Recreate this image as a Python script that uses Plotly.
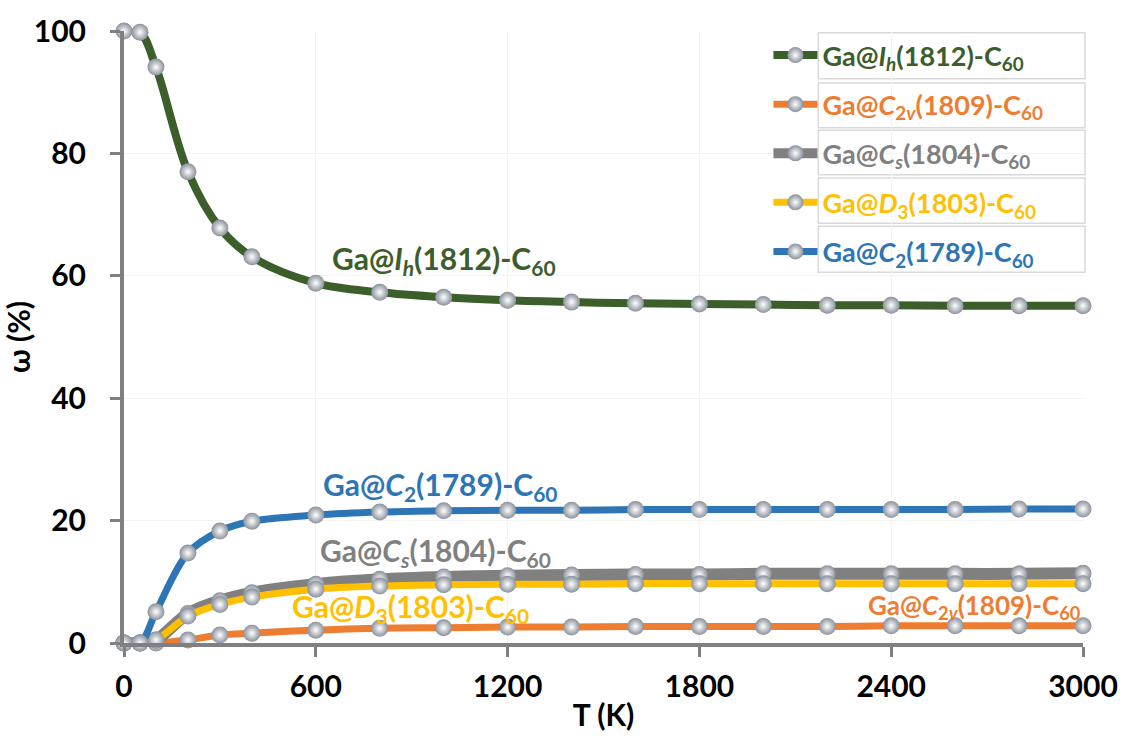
import plotly.graph_objects as go

T = [0, 50, 100, 200, 300, 400, 600, 800, 1000, 1200, 1400, 1600, 1800, 2000, 2200, 2400, 2600, 2800, 3000]

w_Ih = [100, 99.8, 94.1, 77.0, 67.8, 63.1, 58.8, 57.3, 56.5, 56.0, 55.7, 55.5, 55.4, 55.3, 55.2, 55.2, 55.1, 55.1, 55.1]
w_C2v = [0, 0, 0, 0.5, 1.3, 1.6, 2.1, 2.4, 2.5, 2.6, 2.6, 2.7, 2.7, 2.7, 2.7, 2.8, 2.8, 2.8, 2.8]
w_Cs = [0, 0, 0.5, 4.8, 6.9, 8.2, 9.6, 10.4, 10.8, 11.0, 11.1, 11.2, 11.2, 11.3, 11.3, 11.3, 11.3, 11.3, 11.4]
w_D3 = [0, 0, 0.5, 4.4, 6.3, 7.5, 8.8, 9.3, 9.5, 9.6, 9.6, 9.7, 9.7, 9.7, 9.7, 9.7, 9.7, 9.7, 9.7]
w_C2 = [0, 0, 5.1, 14.7, 18.3, 19.9, 20.9, 21.4, 21.6, 21.7, 21.7, 21.8, 21.8, 21.8, 21.8, 21.8, 21.8, 21.9, 21.9]

names = [
    "Ga@<i>I</i><sub><i>h</i></sub>(1812)-C<sub>60</sub>",
    "Ga@<i>C</i><sub>2<i>v</i></sub>(1809)-C<sub>60</sub>",
    "Ga@<i>C</i><sub><i>s</i></sub>(1804)-C<sub>60</sub>",
    "Ga@<i>D</i><sub>3</sub>(1803)-C<sub>60</sub>",
    "Ga@<i>C</i><sub>2</sub>(1789)-C<sub>60</sub>",
]
series = [w_Ih, w_C2v, w_Cs, w_D3, w_C2]
colors = ["#3b5e2b", "#ed7d31", "#808080", "#ffc000", "#2e75b6"]
widths = [8, 7, 12, 7, 7]

x_ticks = [0, 600, 1200, 1800, 2400, 3000]
y_ticks = [0, 20, 40, 60, 80, 100]

# in-plot label positions (data coords) and sizes
label_x = [1000, 2662, 975, 895, 990]
label_y = [62.6, 6.0, 14.8, 5.8, 25.6]
label_size = [30, 26, 30, 30, 30]

FONT = "Lato, 'Open Sans', Arial, sans-serif"

fig = go.Figure()
for i, (nm, ys, c, lw) in enumerate(zip(names, series, colors, widths)):
    fig.add_trace(go.Scatter(
        x=T, y=ys, mode="lines+markers",
        name=f"<span style='color:{c}'><b>{nm}</b></span>",
        legendgroup=f"g{i}",
        line=dict(color=c, width=lw, shape="spline", smoothing=1.0),
        marker=dict(size=17, color="#8a919b",
                    gradient=dict(type="radial", color="#ffffff"),
                    line=dict(width=0)),
        cliponaxis=False,
    ))

for nm, c, lx, ly, ls in zip(names, colors, label_x, label_y, label_size):
    fig.add_annotation(x=lx, y=ly, text=f"<b>{nm}</b>", showarrow=False,
                       font=dict(size=ls, color=c, family=FONT),
                       xanchor="center", yanchor="middle")

# legend entry frames (decoration)
box_y = [(0.997, 0.922), (0.915, 0.842), (0.838, 0.765), (0.760, 0.686), (0.681, 0.606)]
for (y1, y0) in box_y:
    fig.add_shape(type="rect", xref="paper", yref="paper", x0=0.724, x1=1.002, y0=y0, y1=y1,
                  line=dict(color="#d9d9d9", width=1.5), fillcolor="rgba(0,0,0,0)", layer="below")

fig.update_layout(
    width=1122, height=738,
    margin=dict(l=124, r=39, t=31, b=95),
    paper_bgcolor="white", plot_bgcolor="white",
    font=dict(family=FONT, color="black"),
    showlegend=True,
    legend=dict(x=0.672, y=1.0, xanchor="left", yanchor="top",
                bgcolor="rgba(0,0,0,0)", borderwidth=0,
                font=dict(size=27, family=FONT),
                tracegroupgap=11, itemwidth=44,
                traceorder="grouped"),
)
fig.update_xaxes(
    range=[0, 3000], tickvals=x_ticks, ticktext=[f"<b>{v}</b>" for v in x_ticks],
    showline=True, linecolor="#808080", linewidth=4, automargin=False,
    ticks="outside", ticklen=10, tickwidth=3, tickcolor="#808080",
    ticklabelstandoff=4,
    showgrid=True, gridcolor="#f3f3f3", gridwidth=1, zeroline=False,
    tickfont=dict(size=30, family=FONT, color="black"),
    title=dict(text="<b>T (K)</b>", font=dict(size=30, family=FONT, color="black"), standoff=4),
)
fig.update_yaxes(
    range=[0, 100], tickvals=y_ticks, ticktext=[f"<b>{v}</b>" for v in y_ticks],
    showline=True, linecolor="#808080", linewidth=4, automargin=False,
    ticks="outside", ticklen=10, tickwidth=3, tickcolor="#808080",
    ticklabelstandoff=18,
    showgrid=True, gridcolor="#f3f3f3", gridwidth=1, zeroline=False,
    tickfont=dict(size=30, family=FONT, color="black"),
    title=dict(text="<b>ω (%)</b>", font=dict(size=30, family=FONT, color="black"), standoff=6),
)

fig.write_html("out.html")
